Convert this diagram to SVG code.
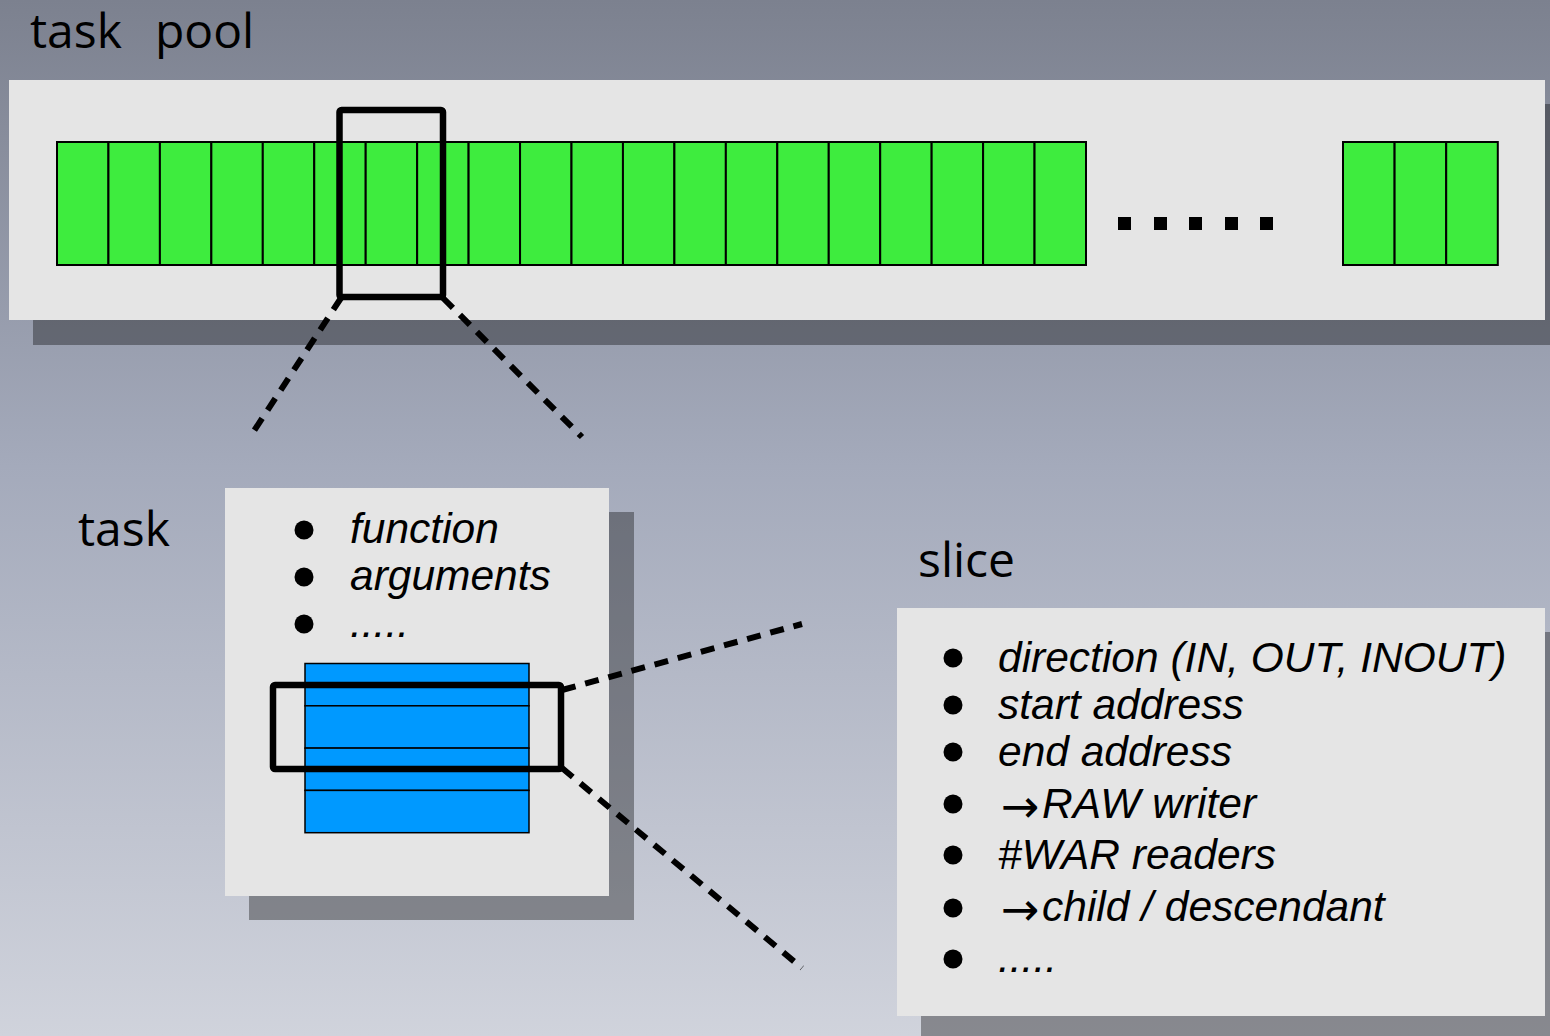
<svg xmlns="http://www.w3.org/2000/svg" width="1550" height="1036" viewBox="0 0 1550 1036">
  <defs>
    <linearGradient id="bg" x1="0" y1="0" x2="0" y2="1">
      <stop offset="0" stop-color="#7c818f"/>
      <stop offset="0.45" stop-color="#a4aabb"/>
      <stop offset="1" stop-color="#d0d3dc"/>
    </linearGradient>
    <style>
      .panel { fill: #e5e5e5; }
      .shadow { fill: #000000; fill-opacity: 0.35; }
      .cell { fill: #3eec3e; stroke: #000000; stroke-width: 2; }
      .row { fill: #0099ff; stroke: #000000; stroke-width: 1.5; }
      .dot { fill: #000000; }
      .select { fill: none; stroke: #000000; stroke-width: 6.5; stroke-linejoin: round; }
      .zoom { fill: none; stroke: #000000; stroke-width: 6; stroke-dasharray: 14 10; }
      .hand { font-family: "Open Sans", "DejaVu Sans", sans-serif; font-size: 48px; fill: #000000; }
      .item { font-family: "Liberation Sans", Arial, sans-serif; font-style: italic; font-size: 42.5px; fill: #000000; }
      .arrow { font-family: "DejaVu Sans", sans-serif; font-style: normal; font-size: 46px; }
      .bullet { fill: #000000; }
    </style>
  </defs>

  <!-- backdrop -->
  <rect x="0" y="0" width="1550" height="1036" fill="url(#bg)"/>

  <!-- task pool -->
  <g id="task-pool">
    <rect class="shadow" x="33" y="104" width="1530" height="241"/>
    <rect class="panel" x="9" y="80" width="1536" height="240"/>
    <g id="pool-cells">
      <rect class="cell" x="57" y="142" width="51.45" height="123"/>
      <rect class="cell" x="108.45" y="142" width="51.45" height="123"/>
      <rect class="cell" x="159.9" y="142" width="51.45" height="123"/>
      <rect class="cell" x="211.35" y="142" width="51.45" height="123"/>
      <rect class="cell" x="262.8" y="142" width="51.45" height="123"/>
      <rect class="cell" x="314.25" y="142" width="51.45" height="123"/>
      <rect class="cell" x="365.7" y="142" width="51.45" height="123"/>
      <rect class="cell" x="417.15" y="142" width="51.45" height="123"/>
      <rect class="cell" x="468.6" y="142" width="51.45" height="123"/>
      <rect class="cell" x="520.05" y="142" width="51.45" height="123"/>
      <rect class="cell" x="571.5" y="142" width="51.45" height="123"/>
      <rect class="cell" x="622.95" y="142" width="51.45" height="123"/>
      <rect class="cell" x="674.4" y="142" width="51.45" height="123"/>
      <rect class="cell" x="725.85" y="142" width="51.45" height="123"/>
      <rect class="cell" x="777.3" y="142" width="51.45" height="123"/>
      <rect class="cell" x="828.75" y="142" width="51.45" height="123"/>
      <rect class="cell" x="880.2" y="142" width="51.45" height="123"/>
      <rect class="cell" x="931.65" y="142" width="51.45" height="123"/>
      <rect class="cell" x="983.1" y="142" width="51.45" height="123"/>
      <rect class="cell" x="1034.55" y="142" width="51.45" height="123"/>
      <rect class="cell" x="1343" y="142" width="51.6" height="123"/>
      <rect class="cell" x="1394.6" y="142" width="51.6" height="123"/>
      <rect class="cell" x="1446.2" y="142" width="51.6" height="123"/>
    </g>
    <g id="pool-ellipsis">
      <rect class="dot" x="1118" y="217" width="13" height="13"/>
      <rect class="dot" x="1154" y="217" width="13" height="13"/>
      <rect class="dot" x="1189" y="217" width="13" height="13"/>
      <rect class="dot" x="1225" y="217" width="13" height="13"/>
      <rect class="dot" x="1260" y="217" width="13" height="13"/>
    </g>
    <rect id="pool-select" class="select" x="339.5" y="110" width="103.5" height="187" rx="2"/>
  </g>

  <!-- task -->
  <g id="task">
    <rect class="shadow" x="249" y="512" width="385" height="408"/>
    <rect class="panel" x="225" y="488" width="384" height="408"/>
    <circle class="bullet" cx="304" cy="530" r="9.5"/>
    <circle class="bullet" cx="304" cy="577" r="9.5"/>
    <circle class="bullet" cx="304" cy="624" r="9.5"/>
    <text class="item" x="350" y="543">function</text>
    <text class="item" x="350" y="590">arguments</text>
    <text class="item" x="350" y="637">.....</text>
    <g id="task-slices">
      <rect class="row" x="305" y="663.5" width="224" height="42.3"/>
      <rect class="row" x="305" y="705.8" width="224" height="42.3"/>
      <rect class="row" x="305" y="748.1" width="224" height="42.3"/>
      <rect class="row" x="305" y="790.4" width="224" height="42.3"/>
    </g>
    <rect id="slice-select" class="select" x="273" y="685" width="288" height="84" rx="2"/>
  </g>

  <!-- slice -->
  <g id="slice">
    <rect class="shadow" x="921" y="632" width="650" height="420"/>
    <rect class="panel" x="897" y="608" width="648" height="408"/>
    <circle class="bullet" cx="953" cy="658" r="9.5"/>
    <circle class="bullet" cx="953" cy="705" r="9.5"/>
    <circle class="bullet" cx="953" cy="752" r="9.5"/>
    <circle class="bullet" cx="953" cy="804" r="9.5"/>
    <circle class="bullet" cx="953" cy="855" r="9.5"/>
    <circle class="bullet" cx="953" cy="908" r="9.5"/>
    <circle class="bullet" cx="953" cy="959" r="9.5"/>
    <text class="item" x="998" y="672">direction (IN, OUT, INOUT)</text>
    <text class="item" x="998" y="719">start address</text>
    <text class="item" x="998" y="766">end address</text>
    <text class="item" x="1001" y="818"><tspan class="arrow" dy="4">→</tspan><tspan x="1042" dy="-4">RAW writer</tspan></text>
    <text class="item" x="998" y="869">#WAR readers</text>
    <text class="item" x="1001" y="921"><tspan class="arrow" dy="4">→</tspan><tspan x="1042" dy="-4">child / descendant</tspan></text>
    <text class="item" x="998" y="972">.....</text>
  </g>

  <!-- headings -->
  <g id="labels">
    <text class="hand" x="30" y="48">task<tspan x="155">pool</tspan></text>
    <text class="hand" x="78" y="546">task</text>
    <text class="hand" x="918" y="577">slice</text>
  </g>

  <!-- zoom-out connectors -->
  <g id="connectors">
    <line class="zoom" x1="341" y1="298" x2="250" y2="437"/>
    <line class="zoom" x1="443" y1="298" x2="582" y2="437"/>
    <line class="zoom" x1="562" y1="690" x2="802" y2="624"/>
    <line class="zoom" x1="562" y1="768" x2="802" y2="968"/>
  </g>
</svg>
